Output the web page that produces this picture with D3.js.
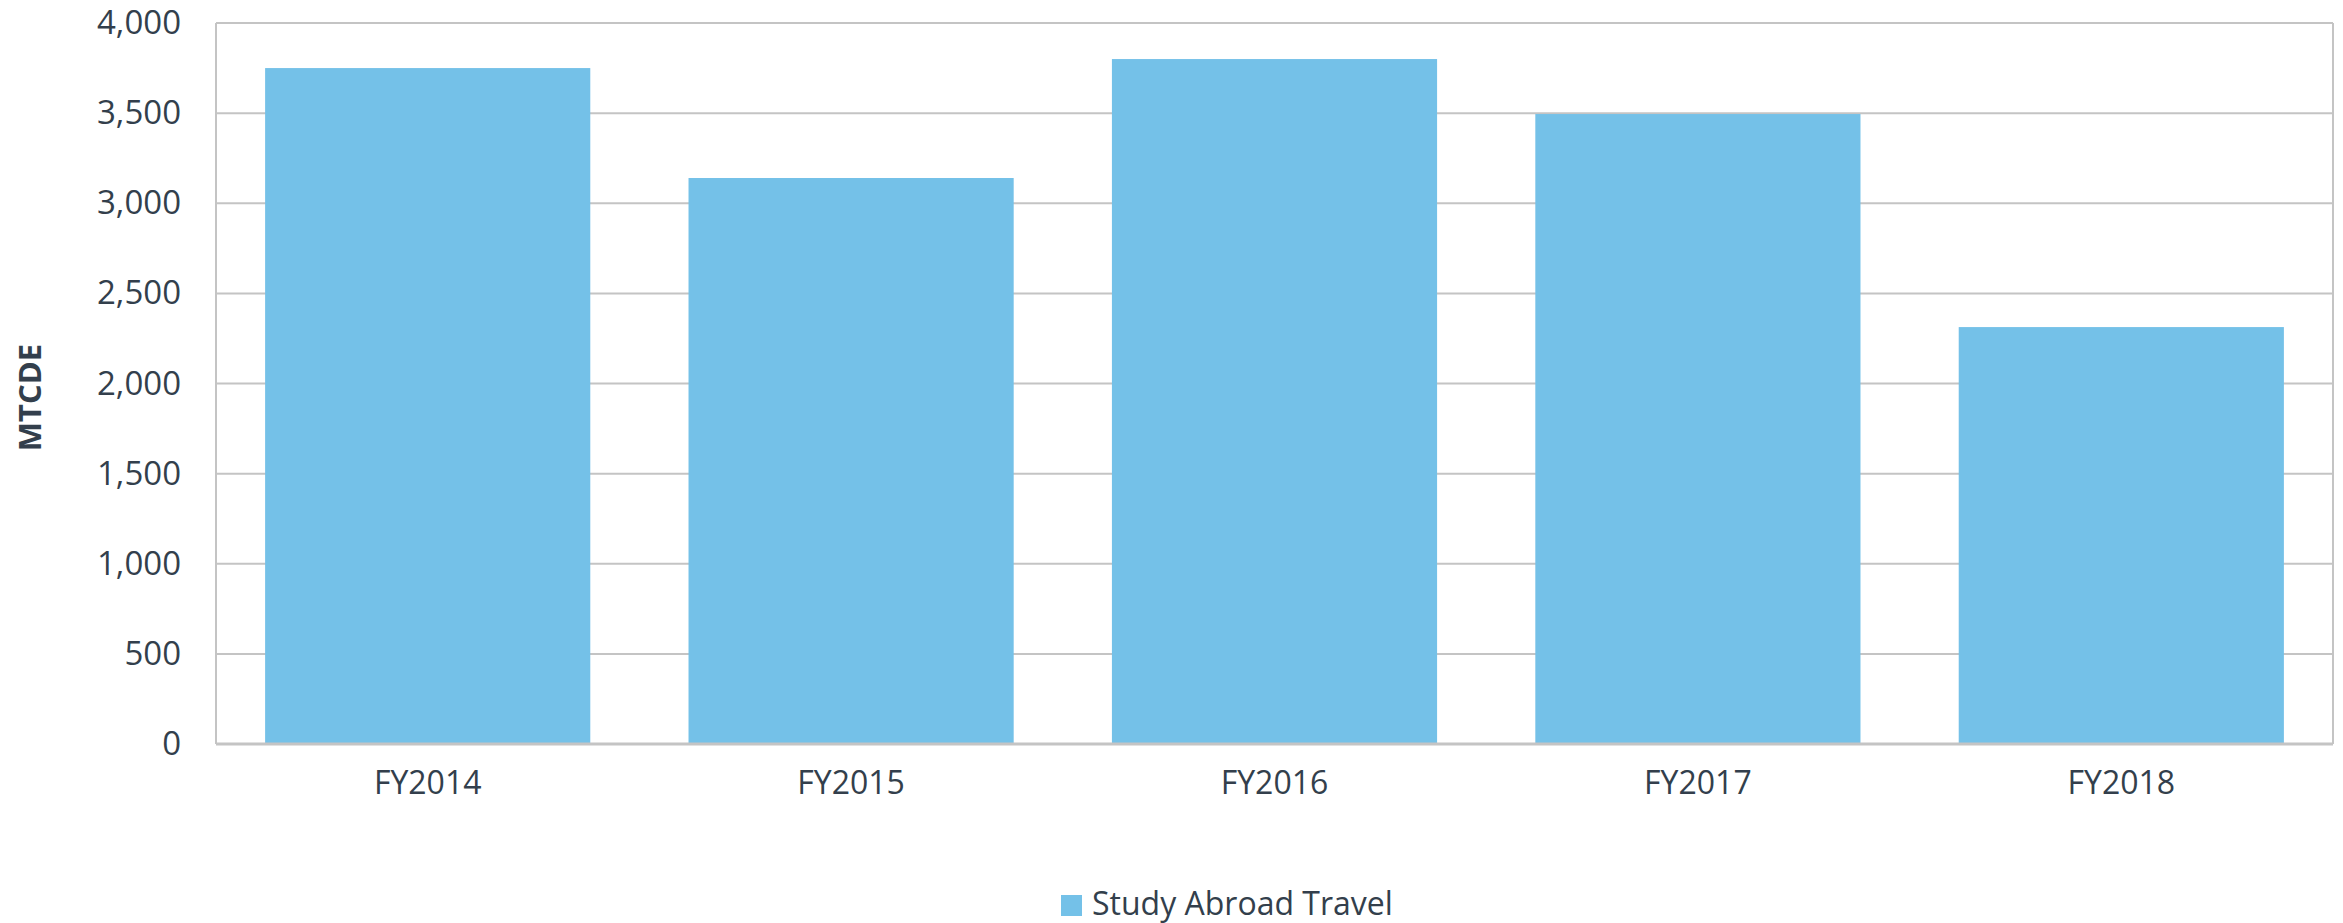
<!DOCTYPE html>
<html>
<head>
<meta charset="utf-8">
<script src="https://cdn.jsdelivr.net/npm/d3@7"></script>
<style>
  body { margin: 0; background: #fff; }
  text { font-family: "Open Sans", sans-serif; fill: #333f4c; }
</style>
</head>
<body>
<div id="wrapper"></div>
<script>
const years = ["FY2014", "FY2015", "FY2016", "FY2017", "FY2018"];
const travel = [3750, 3140, 3800, 3495, 2313];
const yTicks = [0, 500, 1000, 1500, 2000, 2500, 3000, 3500, 4000];
const seriesName = "Study Abroad Travel";

let dimension = {
    width: 2343,
    height: 923,
    margin: { top: 23, left: 216, bottom: 179, right: 10 }
}
dimension.boundedWidth = dimension.width - dimension.margin.left - dimension.margin.right;
dimension.boundedHeight = dimension.height - dimension.margin.top - dimension.margin.bottom;

const barColor = "#74c1e8";
const gridColor = "#c4c4c4";

const svg = d3.select("#wrapper").append("svg")
    .attr("width", dimension.width)
    .attr("height", dimension.height);

const bounds = svg.append("g")
    .attr("transform", `translate(${dimension.margin.left},${dimension.margin.top})`);

const data = years.map((y, i) => ({ year: y, value: travel[i] }));

const xScale = d3.scaleBand()
    .domain(years)
    .range([0, dimension.boundedWidth])
    .paddingInner(0.232)
    .paddingOuter(0.116);

const yScale = d3.scaleLinear()
    .domain([0, 4000])
    .range([dimension.boundedHeight, 0]);

// gridlines
bounds.append("g")
    .selectAll("line")
    .data(yTicks)
    .join("line")
    .attr("x1", 0)
    .attr("x2", dimension.boundedWidth)
    .attr("y1", d => yScale(d))
    .attr("y2", d => yScale(d))
    .attr("stroke", gridColor)
    .attr("stroke-width", 2);

// bars
bounds.selectAll("rect.bar")
    .data(data)
    .join("rect")
    .attr("class", "bar")
    .attr("x", d => xScale(d.year))
    .attr("y", d => yScale(d.value))
    .attr("width", xScale.bandwidth())
    .attr("height", d => dimension.boundedHeight - yScale(d.value))
    .attr("fill", barColor);

// frame
bounds.append("line")
    .attr("x1", 0).attr("x2", 0)
    .attr("y1", 0).attr("y2", dimension.boundedHeight)
    .attr("stroke", gridColor).attr("stroke-width", 2);
bounds.append("line")
    .attr("x1", dimension.boundedWidth).attr("x2", dimension.boundedWidth)
    .attr("y1", 0).attr("y2", dimension.boundedHeight)
    .attr("stroke", gridColor).attr("stroke-width", 2);
bounds.append("line")
    .attr("x1", 0).attr("x2", dimension.boundedWidth)
    .attr("y1", dimension.boundedHeight).attr("y2", dimension.boundedHeight)
    .attr("stroke", gridColor).attr("stroke-width", 3);

// y axis
const yAxis = bounds.append("g")
    .call(d3.axisLeft(yScale).tickValues(yTicks).tickFormat(d3.format(",")).tickSize(0).tickPadding(35));
yAxis.select(".domain").remove();
yAxis.selectAll("text")
    .style("font-size", "33px")
    .attr("fill", "#333f4c");

// x axis
const xAxis = bounds.append("g")
    .attr("transform", `translate(0,${dimension.boundedHeight})`)
    .call(d3.axisBottom(xScale).tickSize(0).tickPadding(27));
xAxis.select(".domain").remove();
xAxis.selectAll("text")
    .style("font-size", "32px")
    .attr("fill", "#333f4c");

// y label
svg.append("text")
    .attr("transform", `translate(41,${dimension.margin.top + dimension.boundedHeight / 2 + 14}) rotate(-90)`)
    .attr("text-anchor", "middle")
    .style("font-size", "31px")
    .style("font-weight", "bold")
    .text("MTCDE");

// legend
const legend = svg.append("g")
    .attr("transform", "translate(1061,895)");
legend.append("rect")
    .attr("width", 21)
    .attr("height", 21)
    .attr("fill", barColor);
legend.append("text")
    .attr("x", 31)
    .attr("y", 20)
    .style("font-size", "32px")
    .text(seriesName);
</script>
</body>
</html>
